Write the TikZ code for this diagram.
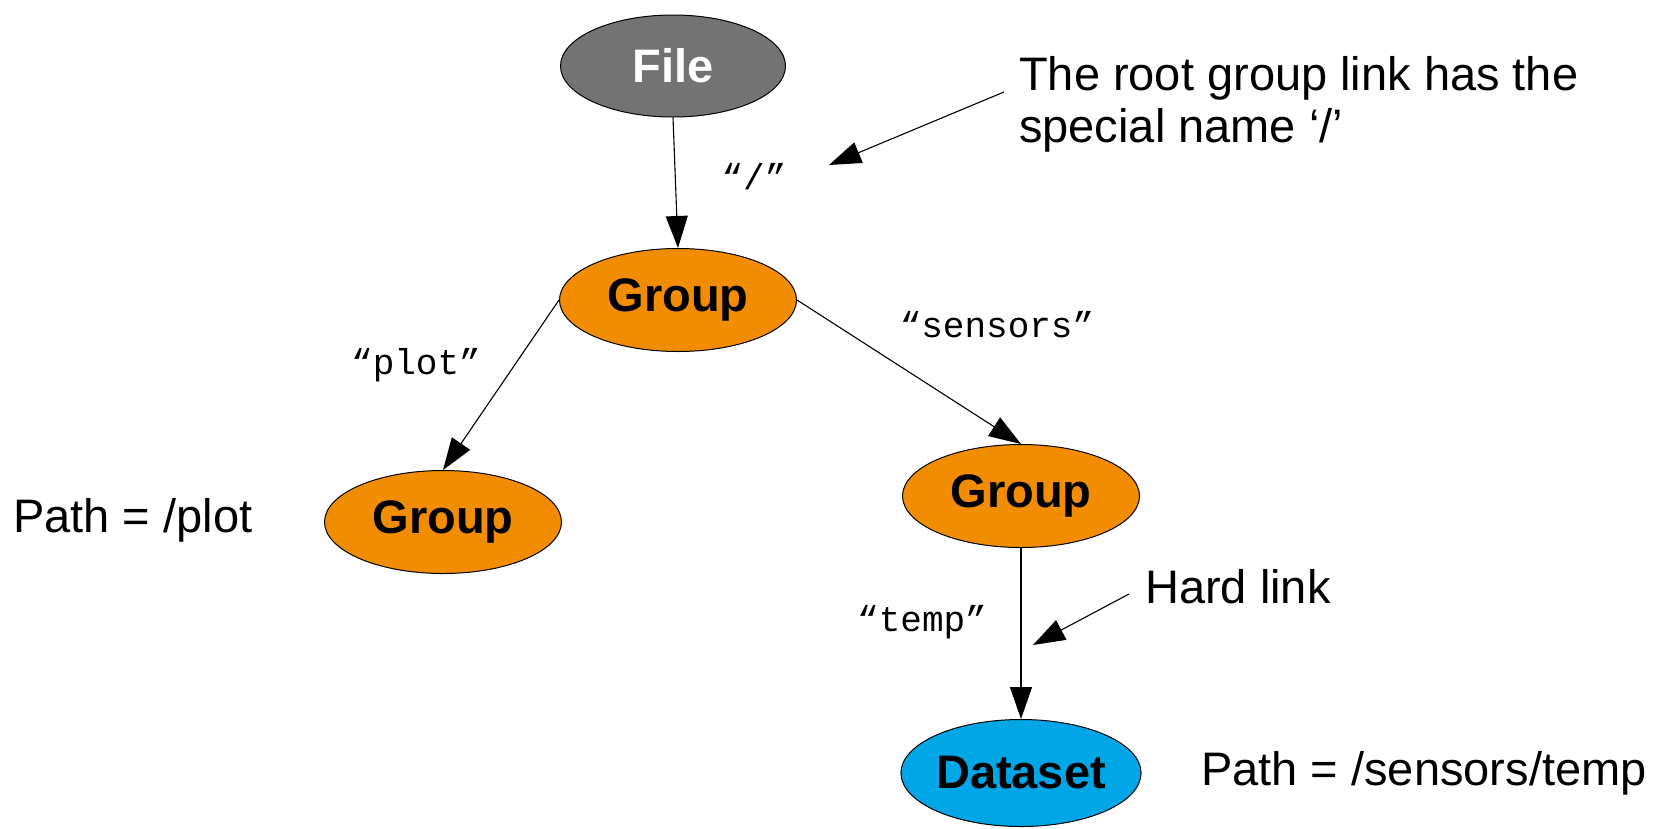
\documentclass[tikz,border=0pt]{standalone}
\usepackage{fontspec}
\setmainfont{Liberation Sans}
\setmonofont{Liberation Mono}
\usetikzlibrary{arrows.meta,shapes.geometric}
\definecolor{filegray}{RGB}{115,115,115}
\definecolor{grouporange}{RGB}{242,140,0}
\definecolor{datablue}{RGB}{0,166,230}
\begin{document}
\begin{tikzpicture}[x=1pt,y=-1pt,
  obj/.style={ellipse,draw=black,line width=1pt,minimum width=237pt,minimum height=103pt,
    inner sep=0pt,font=\fontsize{47}{56}\selectfont\bfseries},
  grp/.style={obj,fill=grouporange},
  link/.style={draw=black,line width=1.1pt,-{Triangle[length=32pt,width=22pt]}},
  linkname/.style={font=\fontsize{36}{40}\selectfont\ttfamily,inner sep=0pt},
  note/.style={font=\fontsize{47}{52}\selectfont,anchor=base west,inner sep=0pt,align=left}]
\useasboundingbox (0,0) rectangle (1670,828);

% objects
\node[obj,fill=filegray,text=white,minimum width=225pt,minimum height=102pt] (file) at (673,66) {File};
\node[grp] (root) at (678,300) {Group};
\node[grp] (plot) at (443,522) {Group};
\node[grp] (sensors) at (1021,496) {Group};
\node[obj,fill=datablue,minimum height=107pt] (temp) at (1021,773) {Dataset};

% links between objects
\draw[link] (file.south) -- (root.north);
\draw[link] (root.west) -- (plot.north);
\draw[link] (root.east) -- (sensors.north);
\draw[link] (sensors.south) -- (temp.north);

% link names
\node[linkname] (nroot) at (754,177) {“/”};
\node[linkname] (nplot) at (416,365) {“plot”};
\node[linkname] (nsensors) at (997,325) {“sensors”};
\node[linkname] (ntemp) at (922,622) {“temp”};

% annotations
\node[note] (rootnote) at (1019,142) {The root group link has the\\special name ‘/’};
\node[note] (hardnote) at (1145,603) {Hard link};
\node[note] (plotpath) at (13,532) {Path = /plot};
\node[note] (temppath) at (1201,785) {Path = /sensors/temp};

\coordinate (rootfrom) at (1004,92);
\coordinate (rootto) at (829,165);
\coordinate (hardfrom) at (1129,594);
\coordinate (hardto) at (1033,645);
\draw[link] (rootfrom) -- (rootto);
\draw[link] (hardfrom) -- (hardto);
\end{tikzpicture}
\end{document}
